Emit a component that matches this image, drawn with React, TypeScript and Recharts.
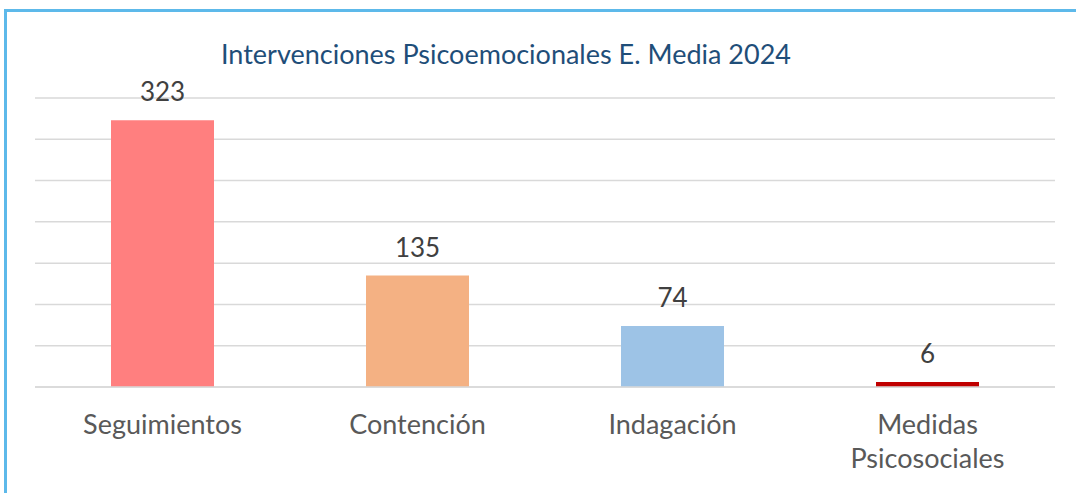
import { Bar, BarChart, CartesianGrid, Cell, LabelList, XAxis, YAxis } from "recharts";

const categories = ["Seguimientos", "Contención", "Indagación", "Medidas Psicosociales"];
const values = [323, 135, 74, 6];
const barColors = ["#FF7F7F", "#F4B183", "#9DC3E6", "#C00000"];
const yTicks = [0, 50, 100, 150, 200, 250, 300, 350];

const data = categories.map((name, i) => ({ name, value: values[i] }));

const FONT = "Lato, 'Open Sans', sans-serif";

function CategoryTick(props: any) {
  const { x, y, payload } = props;
  const label: string = payload.value;
  const lines = label === "Medidas Psicosociales" ? ["Medidas", "Psicosociales"] : [label];
  return (
    <text x={x} y={y + 39} textAnchor="middle" fill="#595959" fontSize={27} fontFamily={FONT}>
      {lines.map((l, i) => (
        <tspan key={l} x={x} dy={i === 0 ? 0 : 34}>
          {l}
        </tspan>
      ))}
    </text>
  );
}

export default function App() {
  return (
    <div style={{ position: "absolute", left: 0, top: 0, width: 1076, height: 493, background: "#fff", overflow: "hidden" }}>
      <div
        style={{
          position: "absolute",
          left: 4,
          top: 9,
          width: 1100,
          height: 520,
          borderLeft: "3px solid #5DB9EA",
          borderTop: "3px solid #5DB9EA",
        }}
      />
      <div
        style={{
          position: "absolute",
          left: 0,
          top: 37,
          width: 1012,
          textAlign: "center",
          fontFamily: FONT,
          fontSize: 27,
          color: "#1F4E79",
        }}
      >
        Intervenciones Psicoemocionales E. Media 2024
      </div>
      <div style={{ position: "absolute", left: 0, top: 0 }}>
        <BarChart width={1076} height={493} data={data} margin={{ top: 98, right: 21, left: 35, bottom: 76 }}>
          <CartesianGrid vertical={false} stroke="#D9D9D9" strokeWidth={1.5} />
          <YAxis hide domain={[0, 350]} ticks={yTicks} />
          <XAxis
            dataKey="name"
            tickLine={false}
            axisLine={{ stroke: "#D9D9D9", strokeWidth: 1.5 }}
            tick={<CategoryTick />}
            interval={0}
          />
          <Bar dataKey="value" barSize={103} isAnimationActive={false}>
            {data.map((d, i) => (
              <Cell key={d.name} fill={barColors[i]} />
            ))}
            <LabelList dataKey="value" position="top" offset={19} fill="#404040" fontSize={26} fontFamily={FONT} />
          </Bar>
        </BarChart>
      </div>
    </div>
  );
}
